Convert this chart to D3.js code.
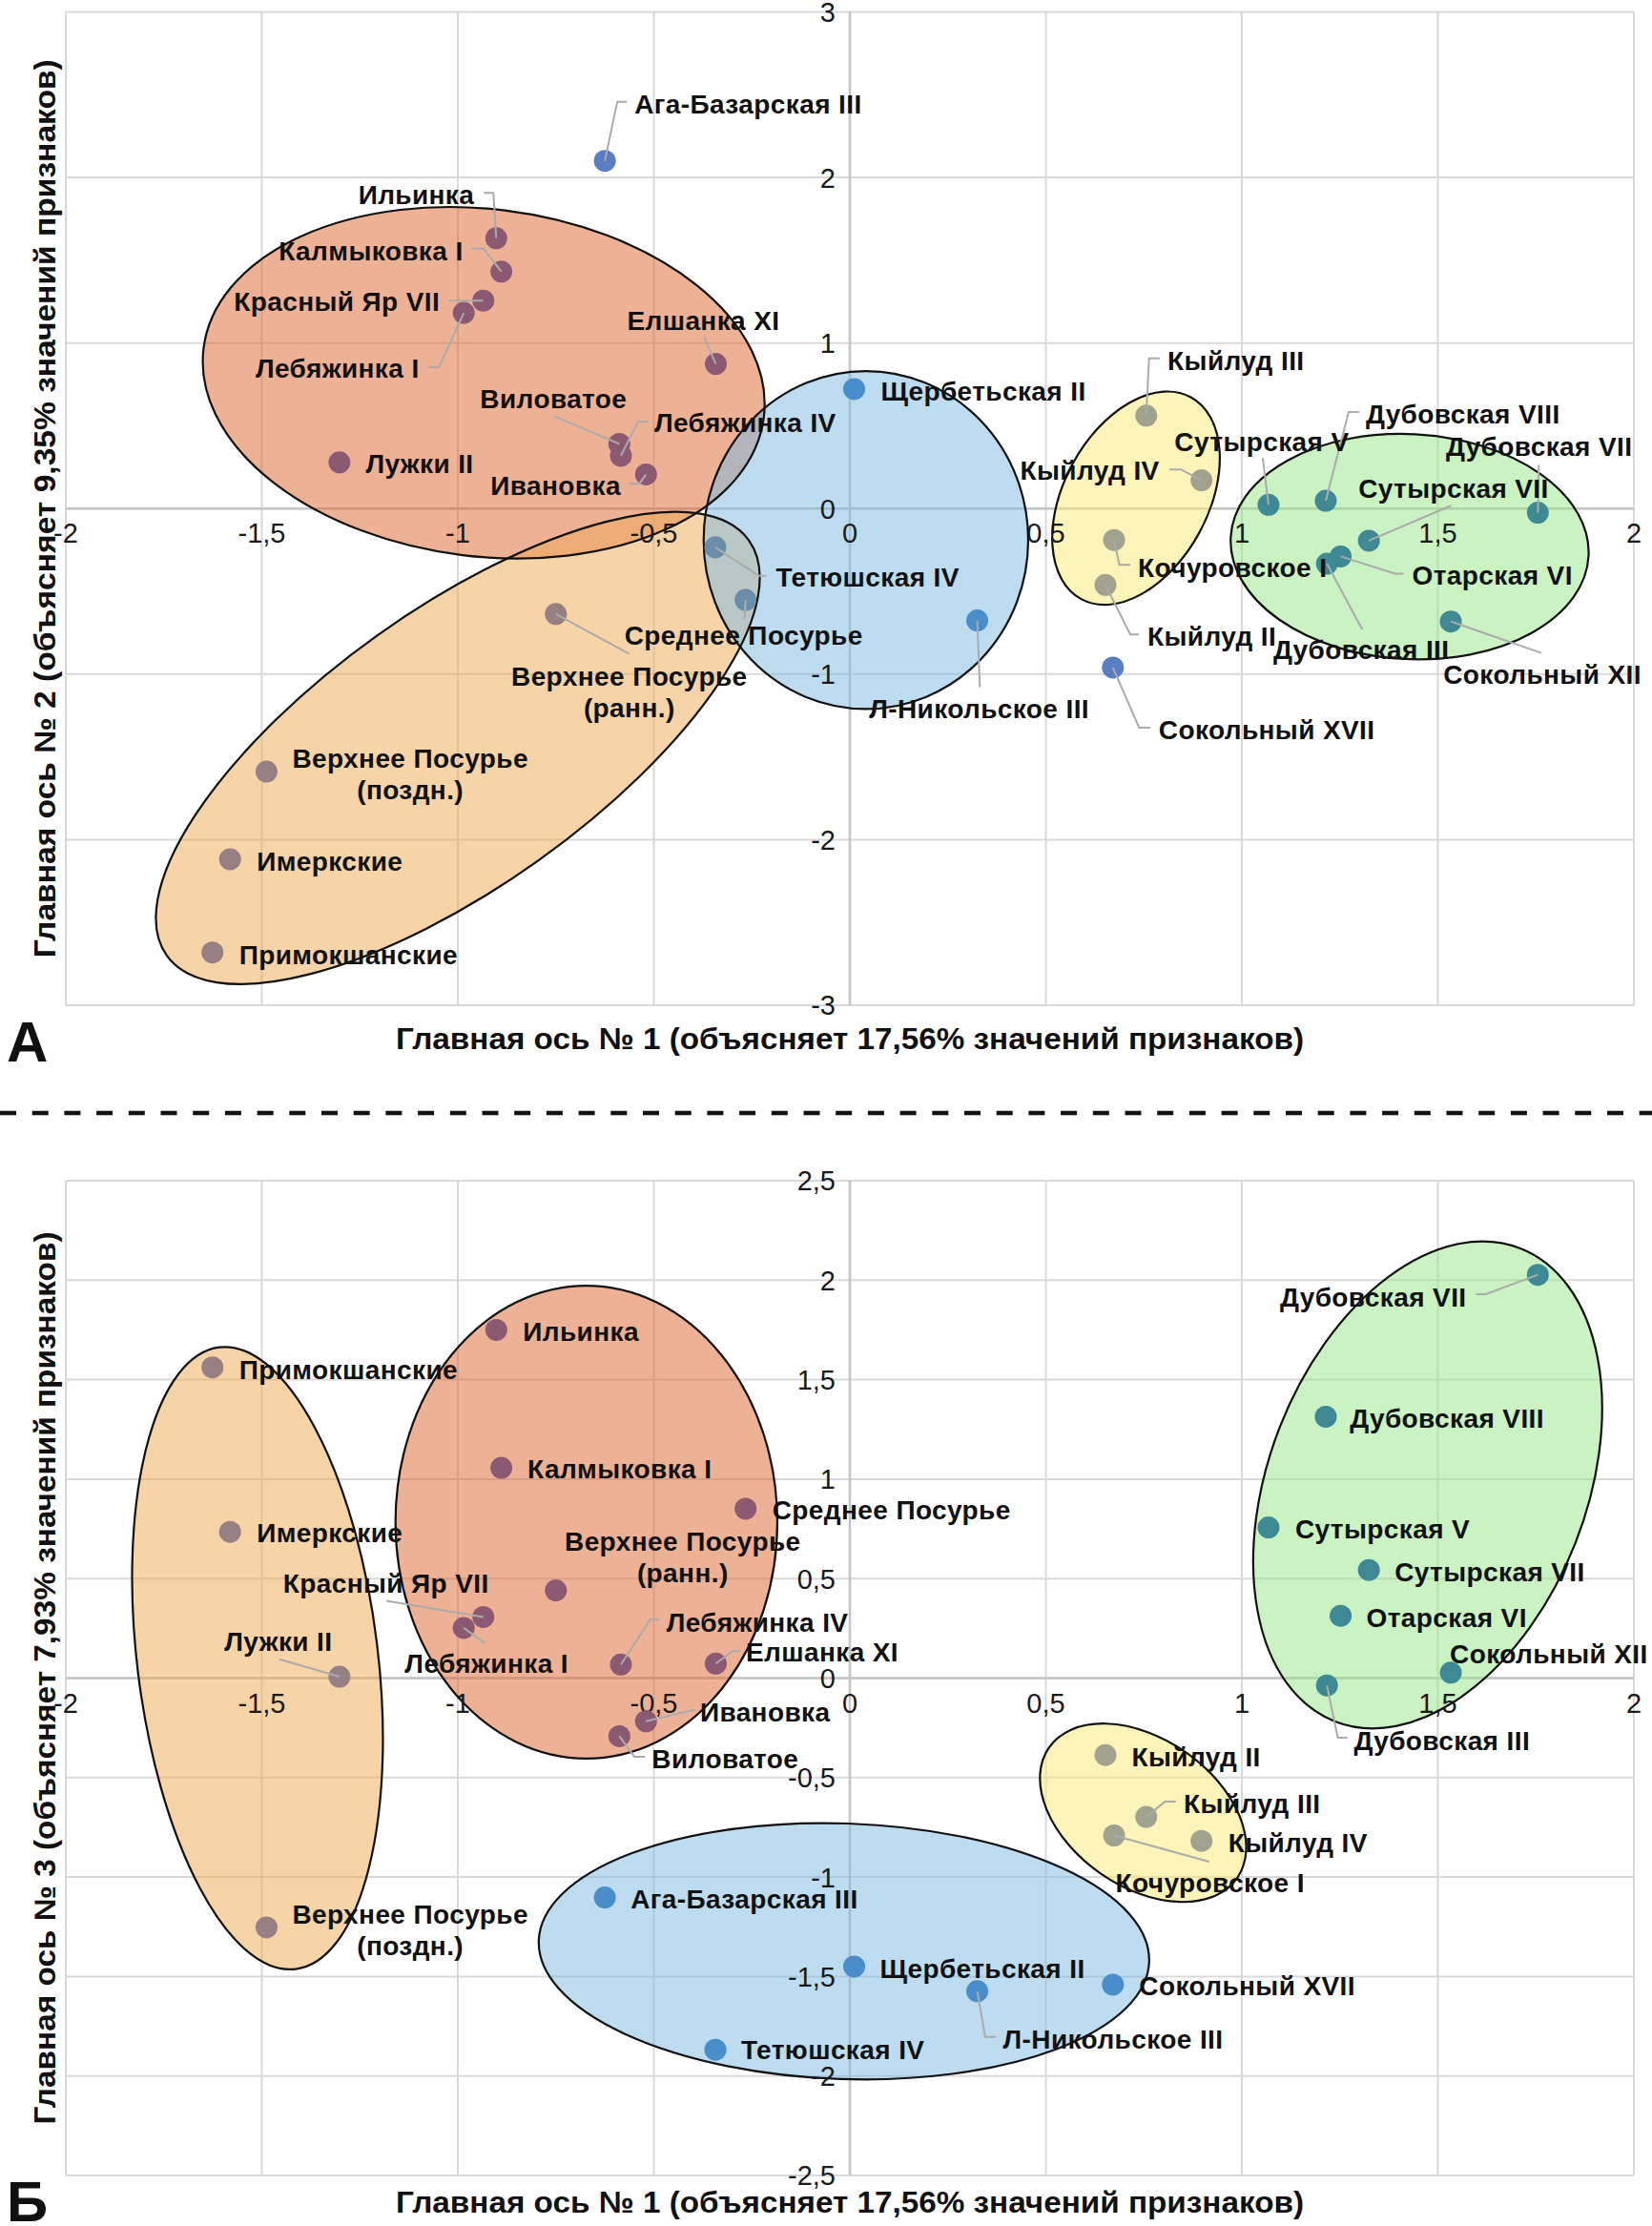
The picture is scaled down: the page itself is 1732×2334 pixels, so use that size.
<!DOCTYPE html>
<html>
<head>
<meta charset="utf-8">
<script src="https://cdn.jsdelivr.net/npm/d3@7"></script>
<style>
  body { margin: 0; background: #fff; }
  svg { display: block; }
  text { font-family: "Liberation Sans", Arial, sans-serif; }
</style>
</head>
<body>
<svg id="chart"></svg>
<script>
// ---- data -------------------------------------------------------------
const sites = [
  "Ага-Базарская III", "Ильинка", "Калмыковка I", "Красный Яр VII", "Лебяжинка I",
  "Елшанка XI", "Виловатое", "Лебяжинка IV", "Ивановка", "Лужки II",
  "Щербетьская II", "Кыйлуд III", "Кыйлуд IV", "Сутырская V", "Дубовская VIII",
  "Дубовская VII", "Сутырская VII", "Тетюшская IV", "Среднее Посурье", "Верхнее Посурье (ранн.)",
  "Верхнее Посурье (поздн.)", "Имеркские", "Примокшанские", "Л-Никольское III", "Кочуровское I",
  "Кыйлуд II", "Сокольный XVII", "Отарская VI", "Дубовская III", "Сокольный XII"
]

// principal axis scores
const pc1 = [-0.625, -0.902, -0.889, -0.935, -0.985, -0.342, -0.588, -0.584, -0.520, -1.302,
              0.011,  0.756,  0.897,  1.068,  1.214,  1.755,  1.324, -0.343, -0.266, -0.750,
             -1.488, -1.581, -1.626,  0.325,  0.674,  0.652,  0.671,  1.252,  1.217,  1.533]
const pc2 = [ 2.100,  1.633,  1.431,  1.256,  1.182,  0.874,  0.391,  0.319,  0.206,  0.279,
              0.722,  0.561,  0.171,  0.023,  0.047, -0.025, -0.194, -0.234, -0.552, -0.637,
             -1.589, -2.118, -2.681, -0.676, -0.190, -0.461, -0.960, -0.289, -0.333, -0.682]
const pc3 = [-1.103,  1.750,  1.057,  0.307,  0.252,  0.073, -0.292,  0.068, -0.217,  0.007,
             -1.450, -0.698, -0.818,  0.757,  1.314,  2.027,  0.543, -1.868,  0.851,  0.441,
             -1.253,  0.735,  1.562, -1.574, -0.791, -0.387, -1.541,  0.313, -0.037,  0.027]

// cluster membership in each plot
const groupA = ["none", "red", "red", "red", "red", "red", "red", "red", "red", "red",
                "blue", "yellow", "yellow", "green", "green", "green", "green", "bo", "bo", "orange",
                "orange", "orange", "orange", "blue", "yellow", "yellow", "none", "green", "green", "green"]
const groupB = ["blue", "red", "red", "red", "red", "red", "red", "red", "red", "orange",
                "blue", "yellow", "yellow", "green", "green", "green", "green", "blue", "red", "red",
                "orange", "orange", "orange", "blue", "yellow", "yellow", "blue", "green", "green", "green"]

const xTicks = [-2, -1.5, -1, -0.5, 0, 0.5, 1, 1.5, 2]
const yTicksA = [-3, -2, -1, 0, 1, 2, 3]
const yTicksB = [-2.5, -2, -1.5, -1, -0.5, 0, 0.5, 1, 1.5, 2, 2.5]

const titleX = "Главная ось № 1 (объясняет 17,56% значений признаков)"
const titleYA = "Главная ось № 2 (объясняет 9,35% значений признаков)"
const titleYB = "Главная ось № 3 (объясняет 7,93% значений признаков)"

// ---- cluster outlines (centre in axis units, half axes in x-axis units, rotation deg)
const ellipsesA = [
  { g: "red",    cx: -0.934, cy:  0.760, a: 0.720, b: 0.443, rot:   7 },
  { g: "orange", cx: -1.000, cy: -1.446, a: 0.912, b: 0.353, rot: -35.5 },
  { g: "blue",   cx:  0.041, cy: -0.190, a: 0.414, b: 0.431, rot:   0 },
  { g: "yellow", cx:  0.730, cy:  0.063, a: 0.293, b: 0.184, rot: -61.5 },
  { g: "green",  cx:  1.428, cy: -0.230, a: 0.457, b: 0.287, rot:   3 }
]
const ellipsesB = [
  { g: "orange", cx: -1.511, cy:  0.100, a: 0.799, b: 0.307, rot:  83 },
  { g: "red",    cx: -0.672, cy:  0.784, a: 0.487, b: 0.603, rot:   0 },
  { g: "blue",   cx: -0.015, cy: -1.373, a: 0.779, b: 0.326, rot:   2 },
  { g: "yellow", cx:  0.748, cy: -0.677, a: 0.292, b: 0.189, rot: 34.7 },
  { g: "green",  cx:  1.474, cy:  0.971, a: 0.648, b: 0.405, rot: -68.6 }
]

// ---- label placement: [dx, dy, anchor, leader elbows] relative to the dot, px
const labelsA = [
  [31, -60, "start", [[13, -62], [23, -62]]],
  [-23, -46, "end", [[-3, -47.5], [-13, -47.5]]],
  [-40, -22, "end", [[-18.5, -24], [-31, -24]]],
  [-45.5, 1, "end", [[-36.5, 0]]],
  [-46.6, 58, "end", [[-26, 57], [-37, 57]]],
  [-13, -46, "middle", [[-12, -28]]],
  [-69, -47, "middle", [[-68.5, -29]]],
  [35, -35, "start", [[18, -36], [29, -36]]],
  [-26.4, 11.4, "end", [[-7, 9.7], [-18, 9.7]]],
  [27.5, 1, "start", null],
  [28, 2, "start", null],
  [22.4, -58, "start", [[3, -60], [14, -60]]],
  [-44, -10.7, "end", [[-21.5, -11.4], [-33.7, -11.4]]],
  [-7, -66.7, "middle", [[-6, -49]]],
  [42, -91, "start", [[24, -93], [35, -93]]],
  [1.4, -69.6, "middle", [[1, -50]]],
  [-11, -55.5, "start", [[86, -36.7]]],
  [63.4, 31.4, "start", [[45.5, 29.8], [53.3, 29.8]]],
  [-2, 36.5, "middle", [[-1, 20]]],
  [77, 64.7, "middle", [[77, 41.7]]],
  [150.7, -14.5, "middle", null],
  [28, 2, "start", null],
  [28, 2, "start", null],
  [2, 92, "middle", [[2.8, 70]]],
  [25, 28.7, "start", [[5.6, 26], [17, 26]]],
  [44, 54, "start", [[26, 52], [35, 52]]],
  [48, 65, "start", [[27.5, 63], [39, 63]]],
  [75, 20, "start", [[57, 18], [66, 18]]],
  [36, 90, "middle", [[37, 69]]],
  [96, 55.5, "middle", [[95, 33]]]
]
const labelsB = [
  [27, 1, "start", null],
  [28, 1, "start", null],
  [27.5, 1, "start", null],
  [-102, -35.7, "middle", [[-101.6, -17]]],
  [24, 37.4, "middle", [[22, 16]]],
  [31.5, -12.4, "start", [[17.4, -13], [26, -13]]],
  [34, 23.3, "start", [[15.7, 21.5], [26.9, 21.5]]],
  [47.7, -44.6, "start", [[31, -47.5], [40.4, -47.5]]],
  [56.6, -9.6, "start", [[47.7, -11.5], [52, -11.5]]],
  [-64, -37, "middle", [[-63, -18.3]]],
  [27, 2, "start", null],
  [39.4, -14.2, "start", [[19.6, -16], [31, -16]]],
  [28, 1.6, "start", null],
  [28, 1, "start", null],
  [25.3, 2, "start", null],
  [-74.8, 23.3, "end", [[-54.6, 20.3], [-64.7, 20.3]]],
  [27, 1.7, "start", null],
  [27, 0, "start", null],
  [28, 1, "start", null],
  [133, -52, "middle", null],
  [150.7, -14, "middle", null],
  [28, 1, "start", null],
  [28, 2, "start", null],
  [27, 49.7, "start", [[8.4, 47.8], [19.6, 47.8]]],
  [100.7, 49.7, "middle", [[99.6, 27.5]]],
  [27.6, 1.6, "start", null],
  [27.5, 1.2, "start", null],
  [27, 1.8, "start", null],
  [28.3, 57.4, "start", [[11.4, 54.7], [21.5, 54.7]]],
  [-1, -20, "start", null]
]

// ---- styles -----------------------------------------------------------
const fillBase = { red: "#DB632D", orange: "#EDA951", blue: "#7BB9E1", yellow: "#F9E971", green: "#95E585" }
const dotColor = { red: "#8B5A72", orange: "#978084", blue: "#4A8DCB", none: "#5A7EC2",
                   bo: "#6A8DAA", yellow: "#A1A38F", green: "#3E8993" }

const width = 1732, height = 2334

const svg = d3.select("#chart")
  .attr("width", width)
  .attr("height", height)
  .attr("viewBox", [0, 0, width, height])

var x = d3.scaleLinear().domain([-2, 2]).range([69, 1713])

function fmt(v) { return String(v).replace(".", ",") }

function drawPanel(params) {
  let y = params.y
  let yv = params.values
  let groups = params.groups
  let labels = params.labels
  let g = svg.append("g").attr("class", params.cls)
  let top = y.range()[1], bottom = y.range()[0]
  let x0 = x(0), y0 = y(0)

  // grid
  g.append("g").selectAll("line.v").data(xTicks)
    .join("line")
    .attr("x1", d => x(d)).attr("x2", d => x(d))
    .attr("y1", top).attr("y2", bottom)
    .attr("stroke", "#D9D9D9").attr("stroke-width", 2)
  g.append("g").selectAll("line.h").data(params.yTicks)
    .join("line")
    .attr("x1", x.range()[0]).attr("x2", x.range()[1])
    .attr("y1", d => y(d)).attr("y2", d => y(d))
    .attr("stroke", "#D9D9D9").attr("stroke-width", 2)
  // zero axes
  g.append("line").attr("x1", x.range()[0]).attr("x2", x.range()[1])
    .attr("y1", y0).attr("y2", y0).attr("stroke", "#C4C4C4").attr("stroke-width", 2.5)
  g.append("line").attr("x1", x0).attr("x2", x0)
    .attr("y1", top).attr("y2", bottom).attr("stroke", "#C4C4C4").attr("stroke-width", 2.5)

  // cluster ellipses
  let kx = x(1) - x(0)
  let eg = g.append("g")
  eg.selectAll("ellipse.fill").data(params.ellipses)
    .join("ellipse")
    .attr("class", "fill")
    .attr("transform", d => "translate(" + x(d.cx) + "," + y(d.cy) + ") rotate(" + d.rot + ")")
    .attr("rx", d => d.a * kx).attr("ry", d => d.b * kx)
    .attr("fill", d => fillBase[d.g]).attr("fill-opacity", 0.5)
  eg.selectAll("ellipse.edge").data(params.ellipses)
    .join("ellipse")
    .attr("class", "edge")
    .attr("transform", d => "translate(" + x(d.cx) + "," + y(d.cy) + ") rotate(" + d.rot + ")")
    .attr("rx", d => d.a * kx).attr("ry", d => d.b * kx)
    .attr("fill", "none").attr("stroke", "#111").attr("stroke-width", 2.2)

  // tick labels along the zero axes
  g.append("g").selectAll("text").data(xTicks)
    .join("text")
    .attr("x", d => x(d)).attr("y", y0 + 36)
    .attr("text-anchor", "middle")
    .attr("font-size", 29).attr("fill", "#1a1a1a")
    .text(fmt)
  g.append("g").selectAll("text").data(params.yTicks)
    .join("text")
    .attr("x", x0 - 15).attr("y", d => y(d)).attr("dy", "0.36em")
    .attr("text-anchor", "end")
    .attr("font-size", 29).attr("fill", "#1a1a1a")
    .text(fmt)

  let pts = sites.map((s, i) => ({ name: s, px: x(pc1[i]), py: y(yv[i]), grp: groups[i], lab: labels[i] }))

  // dots
  g.append("g").selectAll("circle").data(pts)
    .join("circle")
    .attr("cx", d => d.px).attr("cy", d => d.py).attr("r", 11.5)
    .attr("fill", d => dotColor[d.grp])

  // leader lines
  g.append("g").selectAll("polyline").data(pts.filter(d => d.lab[3]))
    .join("polyline")
    .attr("points", d => [[d.px, d.py]].concat(d.lab[3].map(p => [d.px + p[0], d.py + p[1]])).join(" "))
    .attr("fill", "none").attr("stroke", "#ABABAB").attr("stroke-width", 2)

  // labels
  let lt = g.append("g").selectAll("text").data(pts)
    .join("text")
    .attr("x", d => d.px + d.lab[0]).attr("y", d => d.py + d.lab[1])
    .attr("text-anchor", d => d.lab[2])
    .attr("font-size", 28).attr("font-weight", "bold").attr("fill", "#111")
    .attr("letter-spacing", 0.4)
  lt.each(function (d) {
    let parts = d.name.split(" (")
    let t = d3.select(this)
    t.append("tspan").attr("x", d.px + d.lab[0]).attr("dy", "0.36em").text(parts[0])
    if (parts.length > 1) {
      t.append("tspan").attr("x", d.px + d.lab[0]).attr("dy", 33).text("(" + parts[1])
    }
  })

  // axis titles
  g.append("text")
    .attr("x", (x.range()[0] + x.range()[1]) / 2).attr("y", params.titleXY)
    .attr("text-anchor", "middle")
    .attr("font-size", 32).attr("font-weight", "bold").attr("fill", "#111")
    .attr("textLength", 952).attr("lengthAdjust", "spacingAndGlyphs")
    .text(titleX)
  g.append("text")
    .attr("transform", "translate(47," + ((top + bottom) / 2) + ") rotate(-90)")
    .attr("text-anchor", "middle").attr("dy", "0.36em")
    .attr("font-size", 31).attr("font-weight", "bold").attr("fill", "#111")
    .attr("textLength", params.titleYLen).attr("lengthAdjust", "spacingAndGlyphs")
    .text(params.titleY)

  // panel letter
  g.append("text")
    .attr("x", 7).attr("y", params.letterY)
    .attr("font-size", 60).attr("font-weight", "bold").attr("fill", "#111")
    .text(params.letter)
}

drawPanel({
  cls: "panelA",
  y: d3.scaleLinear().domain([-3, 3]).range([1054, 12.5]),
  yTicks: yTicksA, values: pc2, groups: groupA, labels: labelsA,
  ellipses: ellipsesA, titleY: titleYA, titleYLen: 942, titleXY: 1100,
  letter: "А", letterY: 1113
})

drawPanel({
  cls: "panelB",
  y: d3.scaleLinear().domain([-2.5, 2.5]).range([2281, 1238]),
  yTicks: yTicksB, values: pc3, groups: groupB, labels: labelsB,
  ellipses: ellipsesB, titleY: titleYB, titleYLen: 936, titleXY: 2320,
  letter: "Б", letterY: 2329
})

// separator between the two plots
svg.append("line")
  .attr("x1", 0).attr("x2", width)
  .attr("y1", 1167).attr("y2", 1167)
  .attr("stroke", "#111").attr("stroke-width", 4.5)
  .attr("stroke-dasharray", "17 16.7")
</script>
</body>
</html>
